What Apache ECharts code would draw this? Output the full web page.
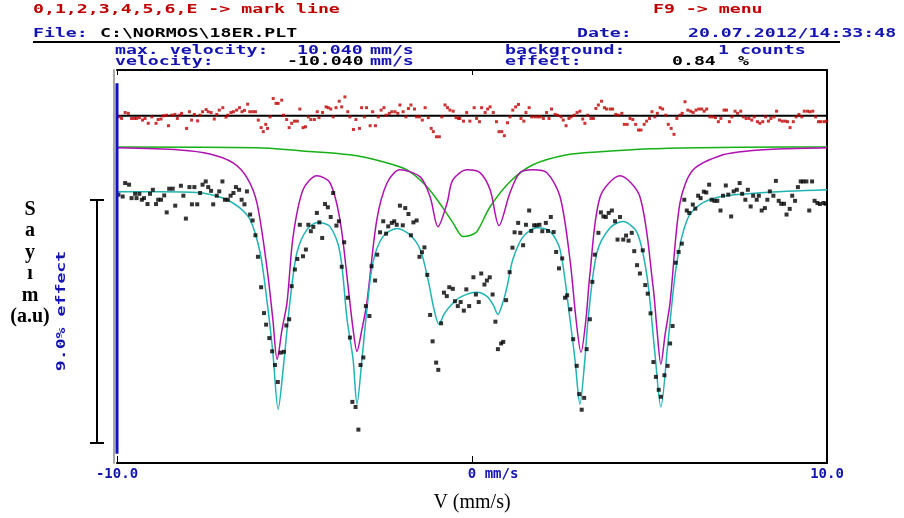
<!DOCTYPE html>
<html>
<head>
<meta charset="utf-8">
<script src="https://cdn.jsdelivr.net/npm/echarts@6/dist/echarts.min.js"></script>
<style>
  html, body { margin: 0; padding: 0; background: #fff; }
  #chart { width: 904px; height: 518px; }
</style>
</head>
<body>
<div id="chart"></div>
<script>
  // measured spectrum, [velocity mm/s, effect %]
  const spectrum = [
    [-9.96,-0.07],[-9.84,-0.14],[-9.77,0.36],[-9.66,0.30],[-9.59,-0.20],[-9.49,-0.04],[-9.45,-0.20],[-9.37,-0.04],[-9.30,-0.26],[-9.24,-0.20],
    [-9.14,-0.42],[-9.07,-0.04],[-8.99,0.11],[-8.90,-0.42],[-8.84,-0.26],[-8.76,-0.26],[-8.67,-0.10],[-8.60,-0.73],[-8.53,0.15],[-8.43,0.15],
    [-8.36,-0.48],[-8.20,0.26],[-8.13,-0.11],[-8.06,-0.96],[-7.96,0.21],[-7.89,-0.43],[-7.82,0.21],[-7.74,-0.43],[-7.66,-0.01],[-7.59,0.30],
    [-7.50,0.42],[-7.43,0.21],[-7.35,0.07],[-7.29,-0.43],[-7.19,-0.11],[-7.12,0.05],[-7.03,0.42],[-6.96,-0.26],[-6.88,-0.26],[-6.80,-0.11],
    [-6.72,-0.01],[-6.65,0.21],[-6.56,0.11],[-6.49,-0.26],[-6.41,-0.43],[-6.34,0.05],[-6.25,-0.81],[-6.18,-1.03],[-6.10,-1.58],[-6.03,-2.38],
    [-5.94,-3.51],[-5.86,-4.47],[-5.80,-4.90],[-5.71,-5.40],[-5.63,-5.89],[-5.55,-6.40],[-5.47,-7.03],[-5.39,-5.94],[-5.30,-5.91],[-5.23,-4.93],
    [-5.15,-4.70],[-5.08,-3.47],[-4.99,-2.85],[-4.92,-2.46],[-4.85,-1.19],[-4.76,-2.36],[-4.68,-2.11],[-4.61,-1.19],[-4.54,-1.43],[-4.47,-1.27],
    [-4.37,-0.75],[-4.30,-1.10],[-4.22,-1.68],[-4.14,-0.42],[-4.06,-0.54],[-3.98,-0.90],[-3.91,-0.01],[-3.82,-1.22],[-3.75,-1.06],[-3.67,-2.75],
    [-3.60,-1.84],[-3.50,-3.90],[-3.44,-5.38],[-3.37,-7.77],[-3.28,-7.96],[-3.20,-8.80],[-3.14,-6.40],[-3.06,-6.12],[-2.99,-4.21],[-2.89,-4.58],
    [-2.83,-2.73],[-2.73,-3.26],[-2.67,-2.30],[-2.59,-1.47],[-2.50,-1.06],[-2.42,-1.52],[-2.36,-1.25],[-2.26,-1.12],[-2.19,-1.06],[-2.12,-1.19],
    [-2.03,-0.48],[-1.95,-1.21],[-1.88,-0.57],[-1.79,-0.79],[-1.72,-1.58],[-1.65,-1.10],[-1.56,-1.03],[-1.48,-2.38],[-1.41,-2.21],[-1.34,-2.03],
    [-1.26,-3.05],[-1.18,-4.54],[-1.11,-5.52],[-1.01,-6.31],[-0.95,-6.58],[-0.87,-4.85],[-0.79,-3.71],[-0.71,-3.84],[-0.64,-3.51],[-0.54,-3.57],
    [-0.48,-4.03],[-0.40,-4.21],[-0.32,-4.06],[-0.23,-4.38],[-0.16,-3.59],[-0.08,-4.21],[0.04,-3.14],[0.11,-3.78],[0.19,-4.06],[0.26,-3.00],
    [0.35,-3.41],[0.42,-3.26],[0.50,-3.14],[0.58,-3.78],[0.66,-4.79],[0.73,-5.81],[0.82,-5.60],[0.88,-5.54],[0.96,-3.99],[1.06,-2.95],
    [1.14,-2.04],[1.20,-1.47],[1.30,-1.12],[1.36,-1.49],[1.44,-1.95],[1.52,-1.19],[1.61,-0.66],[1.67,-1.42],[1.75,-1.21],[1.82,-1.21],
    [1.90,-1.19],[1.98,-1.43],[2.08,-1.12],[2.14,-1.42],[2.22,-0.90],[2.30,-1.46],[2.37,-2.20],[2.45,-2.81],[2.54,-2.44],[2.62,-3.90],
    [2.68,-3.81],[2.77,-4.33],[2.85,-5.44],[2.95,-6.43],[3.02,-7.48],[3.09,-8.06],[3.16,-7.62],[3.23,-5.81],[3.32,-4.70],[3.39,-3.31],
    [3.46,-2.30],[3.56,-1.49],[3.63,-0.73],[3.70,-0.88],[3.77,-0.90],[3.85,-0.75],[3.94,-0.66],[4.03,-1.06],[4.10,-1.74],[4.17,-0.90],
    [4.26,-1.74],[4.34,-1.59],[4.41,-1.78],[4.50,-1.49],[4.57,-2.17],[4.65,-2.69],[4.73,-3.00],[4.81,-2.14],[4.88,-3.43],[4.95,-3.75],
    [5.03,-4.48],[5.11,-6.29],[5.18,-6.84],[5.26,-7.32],[5.32,-7.58],[5.42,-6.78],[5.51,-6.43],[5.58,-5.60],[5.65,-4.95],[5.74,-2.60],
    [5.82,-2.20],[5.91,-1.89],[5.98,-0.26],[6.05,-0.66],[6.12,-0.75],[6.22,-0.44],[6.29,-0.59],[6.37,-0.11],[6.44,-0.20],[6.53,0.04],
    [6.60,0.01],[6.68,0.30],[6.75,-0.26],[6.83,-0.30],[6.91,-0.30],[7.00,-0.66],[7.07,-0.11],[7.15,0.27],[7.22,-0.07],[7.30,-0.88],
    [7.37,0.05],[7.46,0.11],[7.54,0.36],[7.61,-0.04],[7.70,-0.26],[7.77,0.11],[7.85,-0.51],[7.92,-0.11],[8.02,-0.26],[8.08,-0.11],
    [8.16,-0.66],[8.25,-0.57],[8.32,-0.26],[8.39,0.05],[8.49,-0.11],[8.56,0.44],[8.64,-0.30],[8.71,-0.41],[8.79,-0.41],[8.86,-0.81],
    [8.95,-0.60],[9.02,-0.11],[9.10,-0.30],[9.18,0.21],[9.26,0.42],[9.33,0.42],[9.42,0.42],[9.50,-0.66],[9.58,0.42],[9.65,-0.30],
    [9.73,-0.38],[9.80,-0.42],[9.90,-0.38],[9.96,-0.41]
  ];

  // residuals (data - fit), drawn around residBase
  const residBase = 2.86;
  const residual = [
    [-9.94,-0.04],[-9.87,-0.10],[-9.77,0.12],[-9.68,0.09],[-9.59,-0.10],[-9.51,-0.10],[-9.45,-0.10],[-9.37,-0.07],[-9.28,-0.16],[-9.21,-0.10],
    [-9.12,-0.28],[-9.02,-0.04],[-8.90,-0.28],[-8.84,-0.14],[-8.76,-0.12],[-8.69,0.00],[-8.60,0.02],[-8.55,-0.37],[-8.46,0.02],[-8.37,0.05],
    [-8.30,-0.10],[-8.23,0.02],[-8.18,0.09],[-8.04,-0.47],[-7.96,0.15],[-7.90,-0.16],[-7.82,0.05],[-7.73,-0.19],[-7.66,0.02],[-7.59,0.15],
    [-7.49,0.23],[-7.43,0.15],[-7.35,0.12],[-7.26,-0.12],[-7.19,0.05],[-7.12,0.21],[-7.02,0.30],[-6.93,-0.05],[-6.88,0.02],[-6.79,0.12],
    [-6.72,0.15],[-6.63,0.21],[-6.55,0.30],[-6.48,0.15],[-6.41,0.20],[-6.32,0.43],[-6.26,0.15],[-6.18,0.15],[-6.10,0.15],[-6.02,-0.16],
    [-5.94,-0.44],[-5.88,-0.59],[-5.81,-0.32],[-5.76,-0.47],[-5.69,-0.04],[-5.60,0.64],[-5.52,0.46],[-5.46,0.46],[-5.36,0.58],[-5.31,0.02],
    [-5.22,-0.14],[-5.15,-0.44],[-5.08,-0.28],[-5.00,-0.20],[-4.92,-0.20],[-4.85,0.25],[-4.76,-0.44],[-4.69,-0.41],[-4.61,-0.04],[-4.54,-0.14],
    [-4.44,-0.14],[-4.36,0.15],[-4.31,-0.07],[-4.21,0.12],[-4.11,0.33],[-4.05,0.30],[-3.98,0.25],[-3.91,-0.04],[-3.83,0.30],[-3.74,0.54],
    [-3.67,0.33],[-3.58,0.70],[-3.50,0.15],[-3.44,-0.04],[-3.34,-0.51],[-3.27,-0.14],[-3.17,-0.47],[-3.11,0.30],[-3.03,-0.04],[-2.97,0.30],
    [-2.87,-0.37],[-2.80,0.15],[-2.72,-0.37],[-2.64,-0.04],[-2.56,0.21],[-2.48,0.30],[-2.42,0.02],[-2.33,0.09],[-2.26,0.15],[-2.17,0.15],
    [-2.09,0.09],[-2.03,0.40],[-1.94,0.15],[-1.86,-0.04],[-1.79,0.27],[-1.72,0.40],[-1.62,0.25],[-1.56,-0.04],[-1.48,-0.04],[-1.40,-0.16],
    [-1.32,0.30],[-1.23,-0.07],[-1.15,-0.47],[-1.09,-0.59],[-1.00,-0.78],[-0.92,-0.78],[-0.85,-0.04],[-0.76,0.40],[-0.69,0.30],[-0.62,0.21],
    [-0.53,0.17],[-0.45,-0.07],[-0.38,-0.10],[-0.34,-0.10],[-0.24,-0.20],[-0.15,0.12],[-0.06,-0.20],[0.06,0.30],[0.13,-0.10],[0.21,-0.22],
    [0.27,0.30],[0.37,0.12],[0.44,0.25],[0.51,0.33],[0.60,0.12],[0.69,-0.22],[0.76,-0.59],[0.84,-0.59],[0.91,-0.74],[1.00,-0.26],
    [1.07,-0.04],[1.15,0.21],[1.23,0.33],[1.31,0.42],[1.38,-0.10],[1.46,-0.20],[1.52,0.12],[1.61,0.30],[1.68,-0.04],[1.77,-0.04],
    [1.85,-0.04],[1.92,-0.04],[2.01,-0.10],[2.10,0.12],[2.17,-0.10],[2.24,0.25],[2.34,0.05],[2.41,0.02],[2.51,-0.04],[2.57,-0.16],
    [2.65,-0.37],[2.73,-0.10],[2.79,-0.04],[2.88,0.02],[2.96,0.12],[3.04,0.17],[3.12,-0.12],[3.18,-0.28],[3.26,0.02],[3.35,-0.10],
    [3.42,-0.10],[3.49,0.27],[3.56,0.40],[3.65,0.54],[3.73,0.30],[3.79,0.25],[3.89,0.25],[3.96,0.25],[4.05,0.05],[4.12,0.02],
    [4.22,0.09],[4.29,-0.32],[4.37,-0.32],[4.45,-0.10],[4.53,-0.14],[4.61,-0.32],[4.69,-0.53],[4.76,-0.53],[4.85,-0.32],[4.92,-0.20],
    [5.00,-0.10],[5.07,0.15],[5.15,-0.04],[5.22,0.09],[5.30,0.30],[5.37,0.25],[5.46,0.02],[5.53,-0.32],[5.61,-0.47],[5.69,-0.69],
    [5.77,-0.10],[5.86,0.02],[5.92,0.09],[6.00,0.52],[6.08,0.21],[6.16,0.17],[6.23,0.12],[6.31,0.21],[6.39,0.25],[6.47,0.25],
    [6.54,0.17],[6.61,0.25],[6.70,-0.04],[6.78,-0.04],[6.86,-0.07],[6.94,-0.22],[7.01,-0.10],[7.10,0.21],[7.17,0.21],[7.25,-0.22],
    [7.32,-0.04],[7.41,0.17],[7.48,0.09],[7.57,0.17],[7.64,-0.04],[7.72,-0.10],[7.80,-0.10],[7.88,-0.16],[7.95,-0.04],[8.04,-0.22],
    [8.11,-0.28],[8.19,-0.22],[8.27,-0.04],[8.35,-0.20],[8.42,-0.10],[8.51,-0.04],[8.58,0.17],[8.66,-0.16],[8.74,-0.20],[8.82,-0.20],
    [8.89,-0.22],[8.96,-0.44],[9.05,-0.22],[9.13,-0.04],[9.21,0.05],[9.29,-0.04],[9.36,0.17],[9.45,0.17],[9.52,0.15],[9.60,0.17],
    [9.68,-0.04],[9.76,-0.22],[9.83,-0.22],[9.92,-0.22],[9.99,-0.20]
  ];

  // total fit (cyan)
  const totalFit = [
    [-10.0,0.04],[-8.79,0.04],[-7.66,0.0],[-7.24,-0.11],[-6.90,-0.26],[-6.54,-0.56],[-6.25,-1.0],[-5.97,-2.22],[-5.77,-4.07],[-5.61,-5.93],
    [-5.46,-8.04],[-5.32,-6.56],[-5.13,-4.07],[-4.93,-2.22],[-4.65,-1.37],[-4.34,-1.11],[-4.00,-1.26],[-3.72,-2.22],[-3.52,-4.70],[-3.35,-6.19],
    [-3.24,-7.85],[-3.10,-6.19],[-2.96,-4.33],[-2.79,-2.59],[-2.51,-1.63],[-2.11,-1.33],[-1.75,-1.56],[-1.46,-2.11],[-1.24,-3.22],[-1.07,-4.33],
    [-0.93,-4.89],[-0.79,-4.52],[-0.62,-4.22],[-0.34,-3.89],[0.14,-3.70],[0.42,-3.85],[0.59,-4.15],[0.73,-4.52],[0.87,-4.07],[0.99,-3.48],
    [1.15,-2.48],[1.44,-1.63],[1.83,-1.30],[2.20,-1.44],[2.48,-2.11],[2.76,-4.70],[2.90,-6.19],[3.04,-7.85],[3.18,-6.19],[3.27,-4.70],
    [3.52,-2.22],[3.89,-1.30],[4.25,-1.07],[4.65,-1.48],[4.93,-3.11],[5.15,-5.93],[5.32,-7.96],[5.52,-5.56],[5.77,-2.59],[6.06,-1.0],
    [6.42,-0.44],[6.99,-0.15],[8.11,0.0],[10.0,0.11]
  ];

  // sextet subspectrum (magenta), shifted up
  const sextetFit = [
    [-10.0,1.67],[-8.23,1.59],[-7.38,1.44],[-6.73,1.11],[-6.34,0.56],[-6.06,-0.37],[-5.77,-2.85],[-5.61,-4.70],[-5.49,-6.19],[-5.35,-5.07],
    [-5.21,-4.07],[-5.04,-1.63],[-4.76,0.11],[-4.37,0.63],[-4.00,0.37],[-3.72,-1.0],[-3.49,-3.48],[-3.35,-5.07],[-3.24,-5.89],[-3.10,-5.07],
    [-2.96,-4.07],[-2.68,-1.0],[-2.39,0.37],[-2.03,0.85],[-1.46,0.59],[-1.18,-0.15],[-0.96,-1.26],[-0.70,-0.37],[-0.54,0.48],[-0.14,0.85],
    [0.23,0.74],[0.51,0.11],[0.76,-1.22],[1.07,0.0],[1.35,0.74],[1.72,0.85],[2.11,0.74],[2.48,-0.15],[2.76,-2.48],[2.93,-4.70],
    [3.07,-5.93],[3.21,-4.70],[3.32,-3.04],[3.61,-0.15],[4.17,0.63],[4.73,-0.15],[5.10,-3.48],[5.21,-5.07],[5.32,-6.37],[5.44,-5.26],
    [5.58,-4.07],[5.86,-0.37],[6.23,0.85],[7.07,1.41],[7.83,1.56],[8.76,1.63],[10.0,1.67]
  ];

  // broad singlet subspectrum (green), shifted up
  const singletFit = [
    [-10.0,1.70],[-6.06,1.67],[-4.85,1.56],[-3.44,1.41],[-2.51,1.15],[-1.83,0.85],[-1.27,0.22],[-0.82,-0.56],[-0.54,-1.11],[-0.25,-1.63],
    [-0.06,-1.59],[0.14,-1.44],[0.51,-0.52],[1.07,0.41],[1.72,1.04],[2.68,1.41],[3.61,1.52],[5.01,1.63],[6.42,1.67],[8.76,1.70],[10.0,1.70]
  ];

  const xTicks = [-10, 0, 10];
  const markVelocity = -10;

  const BLUE = "#1414b4";
  const RED = "#c00000";
  const MONO = 'bold 13px "DejaVu Sans Mono"';

  function dosText(x, y, text, color) {
    return {
      type: "text",
      x: x,
      y: y,
      scaleX: 1.4,
      style: { text: text, fill: color, font: MONO, align: "left", verticalAlign: "middle" },
    };
  }

  const chart = echarts.init(document.getElementById("chart"), null, { renderer: "canvas" });

  const yMin = -10.04;
  const yMax = 4.56;

  chart.setOption({
    animation: false,
    backgroundColor: "#fff",
    grid: { left: 117, right: 77, top: 70, bottom: 54, show: false },
    xAxis: [
      {
        type: "value",
        position: "bottom",
        min: xTicks[0],
        max: xTicks[2],
        interval: 10,
        axisLine: { onZero: false, lineStyle: { color: "#000", width: 2 } },
        axisTick: { inside: true, length: 7, lineStyle: { color: "#000", width: 1 } },
        splitLine: { show: false },
        axisLabel: {
          showMinLabel: true,
          showMaxLabel: true,
          margin: 4,
          color: BLUE,
          fontFamily: "DejaVu Sans Mono",
          fontWeight: "bold",
          fontSize: 14,
          formatter: (v) => (v === 0 ? "     0 mm/s" : v.toFixed(1)),
        },
        name: "V (mm/s)",
        nameLocation: "middle",
        nameGap: 30,
        nameTextStyle: { fontFamily: "Liberation Serif", fontSize: 20, color: "#000" },
      },
      {
        type: "value",
        position: "top",
        min: xTicks[0],
        max: xTicks[2],
        interval: 10,
        axisLine: { onZero: false, lineStyle: { color: "#000", width: 2 } },
        axisTick: { inside: true, length: 5, lineStyle: { color: "#000" } },
        axisLabel: { show: false },
        splitLine: { show: false },
      },
    ],
    yAxis: [
      {
        type: "value",
        position: "left",
        offset: 3,
        min: yMin,
        max: yMax,
        axisLine: { show: true, onZero: false, lineStyle: { color: "#a8a8a8", width: 2 } },
        axisTick: { show: false },
        axisLabel: { show: false },
        splitLine: { show: false },
      },
      {
        type: "value",
        position: "right",
        min: yMin,
        max: yMax,
        axisLine: { show: true, onZero: false, lineStyle: { color: "#000", width: 2 } },
        axisTick: { show: false },
        axisLabel: { show: false },
        splitLine: { show: false },
      },
    ],
    series: [
      {
        type: "line",
        data: [[xTicks[0], residBase], [xTicks[2], residBase]],
        symbol: "none",
        lineStyle: { color: "#000", width: 2 },
        z: 2,
      },
      {
        type: "scatter",
        data: residual.map((p) => [p[0], residBase + p[1]]),
        symbol: "rect",
        symbolSize: 3,
        itemStyle: { color: RED },
        z: 3,
      },
      {
        type: "line",
        data: singletFit,
        smooth: 0.3,
        symbol: "none",
        lineStyle: { color: "#14b014", width: 1.5 },
        z: 2,
      },
      {
        type: "line",
        data: sextetFit,
        smooth: 0.3,
        symbol: "none",
        lineStyle: { color: "#b010b0", width: 1.5 },
        z: 2,
      },
      {
        type: "line",
        data: totalFit,
        smooth: 0.3,
        symbol: "none",
        lineStyle: { color: "#20b4b4", width: 1.5 },
        z: 2,
      },
      {
        type: "scatter",
        data: spectrum,
        symbol: "rect",
        symbolSize: 4,
        itemStyle: { color: "#000" },
        z: 4,
      },
      {
        type: "line",
        data: [[markVelocity, 4.07], [markVelocity, -9.7]],
        symbol: "none",
        lineStyle: { color: "#1010c8", width: 3 },
        z: 5,
      },
    ],
    graphic: [
      dosText(33, 10, "0,1,2,3,4,5,6,E -> mark line", RED),
      dosText(653, 10, "F9 -> menu", RED),
      dosText(33, 34, "File:", BLUE),
      dosText(100, 34, "C:\\NORMOS\\18ER.PLT", "#000"),
      dosText(577, 34, "Date:", BLUE),
      dosText(688, 34, "20.07.2012/14:33:48", BLUE),
      { type: "line", shape: { x1: 33, y1: 42, x2: 840, y2: 42 }, style: { stroke: "#000", lineWidth: 2 } },
      dosText(115, 51, "max. velocity:", BLUE),
      dosText(297, 51, "10.040", BLUE),
      dosText(370, 51, "mm/s", BLUE),
      dosText(115, 62, "velocity:", BLUE),
      dosText(287, 62, "-10.040", "#000"),
      dosText(370, 62, "mm/s", BLUE),
      dosText(505, 51, "background:", BLUE),
      dosText(718, 51, "1 counts", BLUE),
      dosText(505, 62, "effect:", BLUE),
      dosText(672, 62, "0.84", "#000"),
      dosText(738, 62, "%", "#000"),
      // 9.0% effect scale bar
      { type: "line", shape: { x1: 97, y1: 200, x2: 97, y2: 443 }, style: { stroke: "#000", lineWidth: 2 } },
      { type: "line", shape: { x1: 90, y1: 200, x2: 104, y2: 200 }, style: { stroke: "#000", lineWidth: 2 } },
      { type: "line", shape: { x1: 90, y1: 443, x2: 104, y2: 443 }, style: { stroke: "#000", lineWidth: 2 } },
      {
        type: "text",
        x: 62,
        y: 311,
        rotation: Math.PI / 2,
        scaleX: 1.4,
        style: { text: "9.0% effect", fill: BLUE, font: MONO, align: "center", verticalAlign: "middle" },
      },
      {
        type: "text",
        x: 30,
        y: 199,
        style: {
          text: "S\na\ny\nı\nm\n(a.u)",
          fill: "#000",
          font: 'bold 20px "Liberation Serif"',
          align: "center",
          verticalAlign: "top",
          lineHeight: 21.5,
        },
      },
    ],
  });
</script>
</body>
</html>
